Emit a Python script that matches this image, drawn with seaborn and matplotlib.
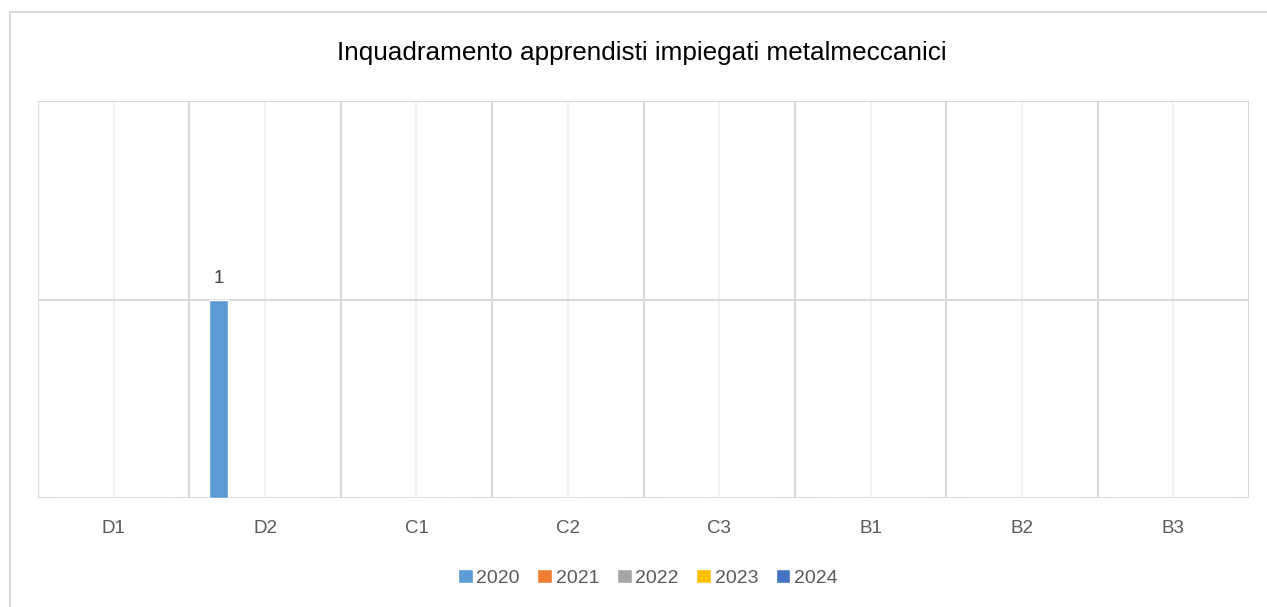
import pandas as pd
import seaborn as sns
import matplotlib.pyplot as plt
from matplotlib.patches import Rectangle
from matplotlib.ticker import MultipleLocator

categories = ["D1", "D2", "C1", "C2", "C3", "B1", "B2", "B3"]
years = ["2020", "2021", "2022", "2023", "2024"]
v2020 = [0, 1, 0, 0, 0, 0, 0, 0]
v2021 = [0, 0, 0, 0, 0, 0, 0, 0]
v2022 = [0, 0, 0, 0, 0, 0, 0, 0]
v2023 = [0, 0, 0, 0, 0, 0, 0, 0]
v2024 = [0, 0, 0, 0, 0, 0, 0, 0]
colors = ["#5b9bd5", "#ed7d31", "#a5a5a5", "#ffc000", "#4472c4"]

rows = []
for year, vals in zip(years, [v2020, v2021, v2022, v2023, v2024]):
    for cat, v in zip(categories, vals):
        rows.append({"Categoria": cat, "Anno": year, "Valore": v})
df = pd.DataFrame(rows)

sns.set_style("white")
plt.rcParams['font.family'] = ['Liberation Sans', 'DejaVu Sans']

fig = plt.figure(figsize=(12.67, 6.07), dpi=100)
ax = fig.add_axes([38 / 1267, 1 - 498 / 607, (1249 - 38) / 1267, (498 - 101) / 607])

sns.barplot(data=df, x="Categoria", y="Valore", hue="Anno", palette=colors,
            width=0.77, gap=0.18, ax=ax, legend=True, saturation=1)

ax.set_ylim(0, 2)
ax.set_xlim(-0.5, len(categories) - 0.5)
ax.yaxis.set_major_locator(MultipleLocator(1))
ax.set_yticklabels([])
ax.tick_params(axis="y", length=0)
ax.tick_params(axis="x", length=0, labelsize=13.5, colors="#595959", pad=16)
ax.set_xlabel("")
ax.set_ylabel("")

# gridlines: horizontal, category boundaries and lighter ones at centres
ax.grid(axis="y", color="#d9d9d9", linewidth=1.5)
for i in range(len(categories) + 1):
    ax.axvline(i - 0.5, color="#d9d9d9", linewidth=1.5, zorder=0)
for i in range(len(categories)):
    ax.axvline(i, color="#f2f2f2", linewidth=1.5, zorder=0)
ax.set_axisbelow(True)
for s in ax.spines.values():
    s.set_visible(False)

for cont in ax.containers:
    labels = [f"{b.get_height():.0f}" if b.get_height() > 0 else "" for b in cont]
    ax.bar_label(cont, labels=labels, padding=9, fontsize=13.5, color="#404040")

handles, labels = ax.get_legend_handles_labels()
ax.legend_.remove()
fig.legend(handles, labels, loc="center", bbox_to_anchor=(648 / 1267, 1 - 578 / 607),
           ncol=5, frameon=False, fontsize=14, handlelength=0.75, handleheight=0.75,
           handletextpad=0.2, columnspacing=0.9, labelcolor="#595959")

fig.text(642 / 1267, 1 - 53 / 607, "Inquadramento apprendisti impiegati metalmeccanici",
         ha="center", va="center", fontsize=18.8, color="#000000")

fig.patches.append(Rectangle((10 / 1267, -0.1), 1.2, 1 - 12 / 607 + 0.1,
                             transform=fig.transFigure, fill=False,
                             edgecolor="#d9d9d9", linewidth=1.5))

fig.savefig("out.png", dpi=100)
